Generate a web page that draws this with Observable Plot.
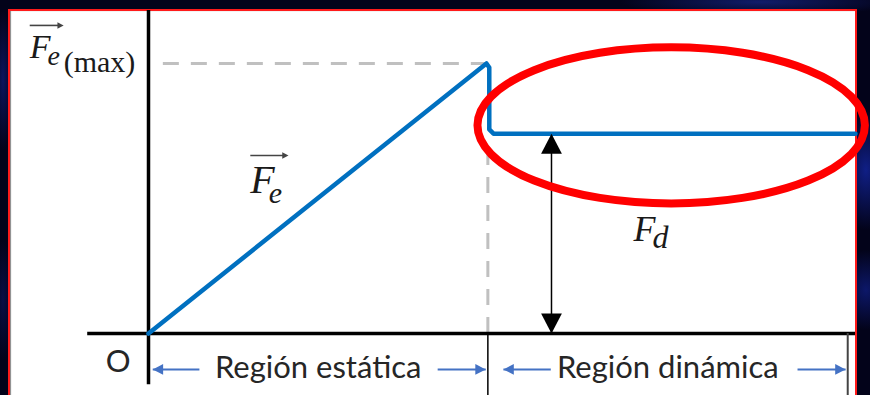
<!DOCTYPE html>
<html>
<head>
<meta charset="utf-8">
<script src="https://cdn.jsdelivr.net/npm/d3@7"></script>
<script src="https://cdn.jsdelivr.net/npm/@observablehq/plot@0.6"></script>
<style>
  html, body { margin: 0; padding: 0; }
  body { width: 870px; height: 395px; overflow: hidden; background: #03031a; }
  #stage {
    position: relative; width: 870px; height: 395px; overflow: hidden;
    background:
      radial-gradient(ellipse 30px 60px at 866px 170px, rgba(20,40,170,0.75), rgba(20,40,170,0) 100%),
      radial-gradient(ellipse 30px 40px at 866px 290px, rgba(20,40,170,0.55), rgba(20,40,170,0) 100%),
      radial-gradient(ellipse 140px 14px at 760px 2px, rgba(25,45,160,0.6), rgba(25,45,160,0) 100%),
      radial-gradient(ellipse 10px 70px at 3px 80px, rgba(20,35,150,0.55), rgba(20,35,150,0) 100%),
      radial-gradient(ellipse 10px 60px at 3px 300px, rgba(20,35,150,0.35), rgba(20,35,150,0) 100%),
      #03031a;
  }
  #panel {
    position: absolute; left: 8px; top: 9px; width: 845px; height: 400px;
    background: #fff; border: 2px solid #ff1a1a;
    box-shadow: inset 2px 1px 1px -1px #888;
  }
  #chart { position: absolute; left: 0; top: 0; }
  #chart svg { overflow: visible; background: none; }
</style>
</head>
<body>
<div id="stage">
  <div id="panel"></div>
  <div id="chart"></div>
</div>
<script>
// Friction force versus applied force: static friction grows to its maximum,
// then drops to the constant kinetic (dynamic) level.
const forceX = [0, 47.8, 48.2, 48.2, 48.8, 100];
const forceY = [0, 100, 98.5, 75.6, 74, 74];

const fMax = 100;        // F_e(max)
const fKinetic = 74;     // F_d
const xPeak = 48;        // start of the dynamic region
const xEnd = 98.9;       // end marker of the dynamic region
const fdArrowX = 57;     // where the F_d height is marked

const regionNames = ["Región estática", "Región dinámica"];
const regionStart = [0, xPeak];
const regionEnd = [xPeak, xEnd];
const regionArrowLeft = [[0.6, 7.2], [50.2, 56.9]];
const regionArrowRight = [[40.9, 47.7], [91.8, 98.6]];
const regionRowY = -13.3;
const regionTextY = -16.3;

// highlight ring around the kinetic plateau
const ringCenter = [74.0, 76.9];
const ringRadius = [27.4, 28.9];

const mathFont = "'Liberation Serif', 'DejaVu Serif', serif";
const sansFont = "Lato, 'Open Sans', sans-serif";

// arrowhead symbols with the tip at the origin
const head = (dir) => ({
  draw(ctx, size) {
    const r = Math.sqrt(size / Math.PI), w = 1.35 * r, h = 2.6 * r;
    const pts = {
      up: [[-w, h], [w, h]], down: [[-w, -h], [w, -h]],
      left: [[h, -w], [h, w]], right: [[-h, -w], [-h, w]]
    }[dir];
    ctx.moveTo(0, 0); ctx.lineTo(...pts[0]); ctx.lineTo(...pts[1]); ctx.closePath();
  }
});

const forcePts = forceX.map((x, i) => ({x, y: forceY[i]}));

// vector labels: letter, subscript, optional suffix and arrow above
const labels = [
  {x: -16.8, y: 102.2, text: "F", size: 34, italic: true},
  {x: -14.3, y: 99.3, text: "e", size: 28, italic: true},
  {x: -12.0, y: 96.7, text: "(max)", size: 30, italic: false},
  {x: 14.4, y: 52.2, text: "F", size: 40, italic: true},
  {x: 17.0, y: 48.5, text: "e", size: 30, italic: true},
  {x: 68.6, y: 34.4, text: "F", size: 36, italic: true},
  {x: 71.3, y: 31.5, text: "d", size: 32, italic: true}
];
const vecArrows = [
  {x1: -16.8, x2: -12.0, y: 114.1},
  {x1: 14.4, x2: 19.8, y: 65.9}
];

const rowArrows = [...regionArrowLeft, ...regionArrowRight].map(([a, b]) => ({x1: a, x2: b, y: regionRowY}));

const ringMark = (index, {x, y}) => {
  const cx = x(ringCenter[0]), cy = y(ringCenter[1]);
  const rx = Math.abs(x(ringCenter[0] + ringRadius[0]) - cx);
  const ry = Math.abs(y(ringCenter[1] + ringRadius[1]) - cy);
  return d3.create("svg:ellipse")
    .attr("cx", cx).attr("cy", cy).attr("rx", rx).attr("ry", ry)
    .attr("fill", "none").attr("stroke", "#ff0000").attr("stroke-width", 8)
    .node();
};

const plot = Plot.plot({
  width: 870,
  height: 395,
  marginLeft: 148,
  marginRight: 15,
  marginTop: 63,
  marginBottom: 62,
  x: {domain: [0, 100], axis: null},
  y: {domain: [0, 100], axis: null},
  style: {background: "none", overflow: "visible"},
  marks: [
    // guide lines to the maximum static friction
    Plot.ruleY([fMax], {x1: 2.1, x2: xPeak - 0.2, stroke: "#c0c0c0", strokeWidth: 3, strokeDasharray: "16,12"}),
    Plot.ruleX([xPeak], {y1: 0, y2: fKinetic - 3, stroke: "#c0c0c0", strokeWidth: 3, strokeDasharray: "16,12"}),
    // axes
    Plot.ruleX([0], {y1: -19, y2: 119.6, stroke: "#000", strokeWidth: 3.5}),
    Plot.ruleY([0], {x1: -8.6, x2: 100, stroke: "#000", strokeWidth: 3.5}),
    // region separators below the axis
    Plot.ruleX([xPeak], {y1: 0, y2: -23.5, stroke: "#000", strokeWidth: 1.5}),
    Plot.ruleX([xEnd], {y1: 0, y2: -23.5, stroke: "#444", strokeWidth: 2}),
    // friction force curve
    Plot.line(forcePts, {x: "x", y: "y", stroke: "#0070c0", strokeWidth: 4.5, strokeLinejoin: "round"}),
    // F_d height marker
    Plot.ruleX([fdArrowX], {y1: 0, y2: fKinetic - 2, stroke: "#000", strokeWidth: 1.5}),
    Plot.dot([{x: fdArrowX, y: fKinetic}], {x: "x", y: "y", symbol: head("up"), r: 7.7, fill: "#000", stroke: "none"}),
    Plot.dot([{x: fdArrowX, y: 0}], {x: "x", y: "y", symbol: head("down"), r: 7.7, fill: "#000", stroke: "none"}),
    // region arrows
    Plot.link(rowArrows, {x1: "x1", x2: "x2", y1: "y", y2: "y", stroke: "#4472c4", strokeWidth: 2}),
    Plot.dot(regionArrowLeft.map(([a]) => ({x: a, y: regionRowY})), {x: "x", y: "y", symbol: head("left"), r: 4, fill: "#4472c4", stroke: "none"}),
    Plot.dot(regionArrowRight.map(([, b]) => ({x: b, y: regionRowY})), {x: "x", y: "y", symbol: head("right"), r: 4, fill: "#4472c4", stroke: "none"}),
    // region names
    Plot.text(regionNames.map((t, i) => ({t, x: (regionStart[i] + regionEnd[i]) / 2})), {
      x: "x", y: () => regionTextY, text: "t", lineAnchor: "bottom", textAnchor: "middle",
      fontFamily: sansFont, fontSize: 31, fill: "#262626"
    }),
    // origin
    Plot.text(["O"], {x: -4.3, y: -14.1, text: d => d, lineAnchor: "bottom", textAnchor: "middle", fontFamily: sansFont, fontSize: 31, fill: "#262626"}),
    // vector labels
    Plot.text(labels.filter(d => d.italic), {x: "x", y: "y", text: "text", fontSize: "size", fontStyle: "italic", fontFamily: mathFont, lineAnchor: "bottom", textAnchor: "start", fill: "#1a1a1a"}),
    Plot.text(labels.filter(d => !d.italic), {x: "x", y: "y", text: "text", fontSize: "size", fontFamily: mathFont, lineAnchor: "bottom", textAnchor: "start", fill: "#1a1a1a"}),
    Plot.link(vecArrows, {x1: "x1", x2: d => d.x2 - 0.6, y1: "y", y2: "y", stroke: "#444", strokeWidth: 1.6}),
    Plot.dot(vecArrows, {x: "x2", y: "y", symbol: head("right"), r: 2.4, fill: "#444", stroke: "none"}),
    // highlight ring
    ringMark
  ]
});

document.getElementById("chart").appendChild(plot);
</script>
</body>
</html>
